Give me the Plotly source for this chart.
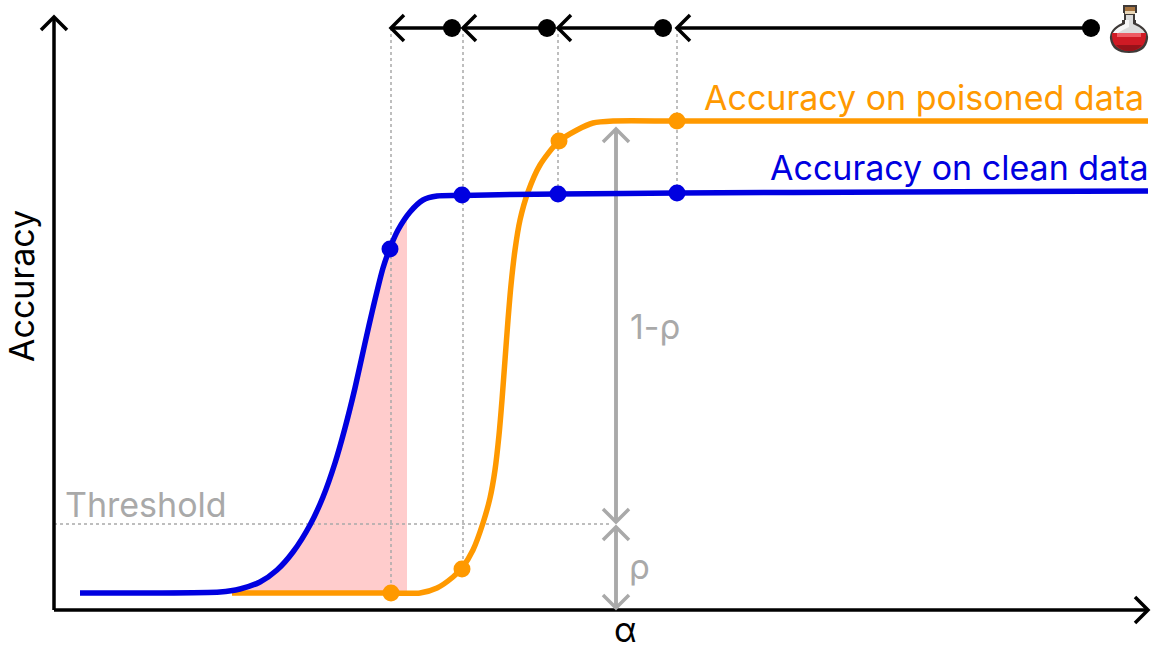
import plotly.graph_objects as go

# everything is laid out on a 1163x651 canvas, y pointing down
W, H = 1163, 651
GRAY = "#a9a9a9"
BLUE = "#0000e0"
ORANGE = "#ff9900"
FONT = "Inter"

clean_x = [80, 150, 220, 240, 260, 277, 293, 310, 323, 335, 345, 355, 365, 373, 383, 390, 398, 410, 423, 437, 462, 510, 558, 677, 900, 1148]
clean_y = [593, 593, 592, 589, 582, 570, 552, 525, 497, 463, 428, 388, 343, 308, 268, 248, 230, 212, 200, 196, 195.5, 194.5, 194, 193, 192, 191]

poison_x = [232, 320, 391, 420, 437, 453, 462, 473, 483, 490, 495, 499, 502, 505, 508, 511, 515, 520, 528, 540, 558, 577, 593, 613, 677, 900, 1148]
poison_y = [593, 593, 593, 593, 588, 577, 568, 550, 523, 498, 470, 435, 400, 360, 320, 285, 250, 220, 192, 165, 142, 130, 123, 121, 121, 121, 121]

shade_x = [235, 260, 277, 293, 310, 323, 335, 345, 355, 365, 373, 383, 390, 398, 407, 407, 235]
shade_y = [590, 582, 570, 552, 525, 497, 463, 428, 388, 343, 308, 268, 248, 230, 216, 593, 593]

clean_dot_x = [390, 462, 558, 677]
clean_dot_y = [249, 195, 194, 193]
poison_dot_x = [391, 462, 559, 677]
poison_dot_y = [593, 569, 141, 121]

step_from = [452, 547, 663, 1091]
step_to = [391, 463, 558, 677]
step_y = 28
guide_end = [593, 569, 194, 193]

threshold_y = 524
rho_x = 616


def chevron(tip_x, tip_y, dx, dy, size=13):
    # open arrow head, dx/dy is the direction it points at
    if dx:
        return [tip_x - dx * size, tip_x, tip_x - dx * size], [tip_y - size, tip_y, tip_y + size]
    return [tip_x - size, tip_x, tip_x + size], [tip_y - dy * size, tip_y, tip_y - dy * size]


def add_line(fig, x, y, color, width, dash="solid"):
    fig.add_trace(go.Scatter(x=x, y=y, mode="lines", hoverinfo="skip",
                             line=dict(color=color, width=width, dash=dash)))


def add_arrow(fig, x0, y0, x1, y1, color, width=3.5):
    add_line(fig, [x0, x1], [y0, y1], color, width)
    dx = (x1 > x0) - (x1 < x0)
    dy = (y1 > y0) - (y1 < y0)
    hx, hy = chevron(x1, y1, dx, dy)
    add_line(fig, hx, hy, color, width)


fig = go.Figure()

fig.add_trace(go.Scatter(x=shade_x, y=shade_y, mode="none", fill="toself",
                         fillcolor="#ffcccc", hoverinfo="skip"))

# guides
for gx, gy in zip(step_to, guide_end):
    add_line(fig, [gx, gx], [step_y, gy], GRAY, 1.5, "3px,3px")
add_line(fig, [54, 610], [threshold_y, threshold_y], GRAY, 1.5, "3px,3px")

# axes
add_arrow(fig, 54, 610, 54, 17, "black")
add_arrow(fig, 54, 610, 1148, 610, "black")

# 1-rho and rho
add_arrow(fig, rho_x, 522, rho_x, 129, GRAY)
add_arrow(fig, rho_x, 129, rho_x, 522, GRAY)
add_arrow(fig, rho_x, 608, rho_x, 527, GRAY)
add_arrow(fig, rho_x, 527, rho_x, 608, GRAY)

# curves
add_line(fig, poison_x, poison_y, ORANGE, 5.5)
fig.data[-1].line.shape = "spline"
fig.data[-1].line.smoothing = 0.7
add_line(fig, clean_x, clean_y, BLUE, 5.5)
fig.data[-1].line.shape = "spline"
fig.data[-1].line.smoothing = 0.7
fig.add_trace(go.Scatter(x=poison_dot_x, y=poison_dot_y, mode="markers", hoverinfo="skip",
                         marker=dict(color=ORANGE, size=17)))
fig.add_trace(go.Scatter(x=clean_dot_x, y=clean_dot_y, mode="markers", hoverinfo="skip",
                         marker=dict(color=BLUE, size=17)))

# steps along the top
for x0, x1 in zip(step_from, step_to):
    add_arrow(fig, x0, step_y, x1, step_y, "black", 3.5)
fig.add_trace(go.Scatter(x=step_from, y=[step_y] * len(step_from), mode="markers", hoverinfo="skip",
                         marker=dict(color="black", size=18)))

labels = [
    ("Accuracy on poisoned data", 1146, 97, "right", ORANGE, 0),
    ("Accuracy on clean data", 1151, 167, "right", BLUE, 0),
    ("Threshold", 63, 504, "left", GRAY, 0),
    ("1-ρ", 628, 326, "left", GRAY, 0),
    ("ρ", 627, 566, "left", GRAY, 0),
    ("α", 625, 629, "center", "black", 0),
    ("Accuracy", 21, 286, "center", "black", -90),
]
for text, x, y, align, color, angle in labels:
    fig.add_annotation(x=x, y=y, text=text, showarrow=False, xanchor=align, yanchor="middle",
                       textangle=angle, font=dict(family=FONT, size=34, color=color))

# potion icon
potion = [
    ("M1123 5 H1137 V13 H1135 V20 H1136 V23 Q1149 29 1148 39 Q1146 53 1129 53 Q1112 53 1110 39 Q1109 29 1122 23 V20 H1124 V13 H1123 Z", "#3f3a38"),
    ("M1125 7 H1135 V11 H1125 Z", "#a5733f"),
    ("M1125 11 H1135 V14 H1125 Z", "#e9d7b8"),
    ("M1126 15 H1133 V24 Q1145 29 1146 36 H1112 Q1113 29 1126 24 Z", "#dcdcdc"),
    ("M1125 20 H1129 V27 Q1120 31 1117 34 H1113 Q1114 29 1125 24 Z", "#f7f7f7"),
    ("M1112 33 H1146 Q1147 50 1129 51 Q1111 50 1112 33 Z", "#cf1a24"),
    ("M1117 33 H1141 V37 H1117 Z", "#ee5b63"),
    ("M1116 45 H1142 Q1137 51 1129 51 Q1121 51 1116 45 Z", "#971219"),
]
for path, color in potion:
    fig.add_shape(type="path", path=path, fillcolor=color, line_width=0, layer="above")

fig.update_layout(
    width=W, height=H, showlegend=False,
    margin=dict(l=0, r=0, t=0, b=0),
    paper_bgcolor="white", plot_bgcolor="white",
    xaxis=dict(range=[0, W], visible=False, fixedrange=True),
    yaxis=dict(range=[H, 0], visible=False, fixedrange=True),
)

# the default page has a body margin that would push the canvas off by 8px
fig.write_html("out.html", config=dict(displayModeBar=False),
               post_script="document.body.style.margin='0';document.body.style.overflow='hidden';")
